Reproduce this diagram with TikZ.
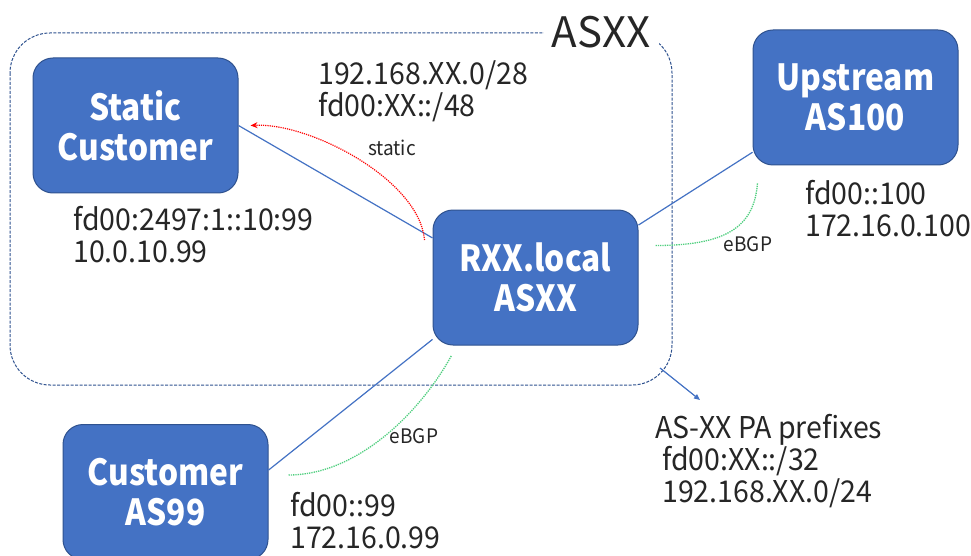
\documentclass[tikz,border=0pt]{standalone}
\usepackage{fontspec}
\setmainfont[FakeStretch=0.95]{Noto Sans CJK JP}
\newfontfamily\boxfont[FakeStretch=0.88]{Noto Sans CJK JP}
\newfontfamily\titlefont{Noto Sans CJK JP}
\usetikzlibrary{arrows.meta,calc}
\definecolor{boxblue}{HTML}{4472C4}
\definecolor{boxedge}{HTML}{2F528F}
\definecolor{txt}{HTML}{262626}
\definecolor{bgpgreen}{HTML}{4FCF7E}
\begin{document}
\begin{tikzpicture}[x=1pt,y=-1pt,
  asbox/.style={draw=boxedge, line width=1pt, fill=boxblue, rounded corners=20pt, minimum width=205pt, minimum height=135pt, text=white, font=\boxfont\fontsize{36}{40}\selectfont\bfseries, align=center, inner sep=0pt},
  addr/.style={text=txt, font=\fontsize{30}{32}\selectfont, align=left, inner sep=0pt, anchor=north west},
  small/.style={text=txt, font=\fontsize{20}{22}\selectfont, inner sep=0pt},
  link/.style={draw=boxblue, line width=1.2pt},
  bgp/.style={draw=bgpgreen, line width=1.3pt, densely dotted},
]
\useasboundingbox (0,0) rectangle (971,556);
\fill[white] (0,0) rectangle (971,556);
\draw[boxedge, line width=1pt, dash pattern=on 3pt off 1.5pt, rounded corners=40pt] (10,33) rectangle (672,385);
\node[fill=white, inner sep=0pt, minimum width=115pt, minimum height=36pt, text=txt, font=\titlefont\fontsize{42}{42}\selectfont] (asxx) at (601,32) {ASXX};

\node[asbox] (sc) at (135.5,125.5) {Static\\Customer};
\node[asbox] (up) at (855.5,97.5) {Upstream\\AS100};
\node[asbox] (rxx) at (535.5,277.5) {RXX.local\\ASXX};
\node[asbox] (c99) at (165.5,492) {Customer\\AS99};

\draw[link] (sc.east) -- (rxx.159);
\draw[link] (rxx.27) -- (up.208);
\draw[link] (rxx.211) -- (c99.12);

\coordinate (rs) at ([xshift=-8pt]rxx.160);
\coordinate (re) at ([xshift=12pt]sc.east);
\draw[red, densely dotted, line width=1.2pt, -{Stealth[length=7pt,width=6pt]}] (rs) .. controls ($(rs)+(-5,-60)$) and ($(re)+(60,-3)$) .. (re);

\coordinate (g1a) at ([shift={(17,-32)}]rxx.east);
\coordinate (g1b) at ([shift={(5,17)}]up.south west);
\draw[bgp] (g1a) .. controls ($(g1a)+(70,0)$) and ($(g1b)+(-3,45)$) .. (g1b);

\coordinate (g2a) at ([shift={(20,-17)}]c99.east);
\coordinate (g2b) at ([shift={(19,10)}]rxx.south west);
\draw[bgp] (g2a) .. controls ($(g2a)+(70,0)$) and ($(g2b)+(-30,55)$) .. (g2b);

\coordinate (dc) at (660,368);
\coordinate (pe) at (700,400);
\draw[link, -{Triangle[length=6pt,width=5pt]}] (dc) -- (pe);

\node[small] (lst) at (392,148) {static};
\node[small] (lb1) at (748,244) {eBGP};
\node[small] (lb2) at (414,436) {eBGP};

\node[addr] (pfx) at (318,60) {192.168.XX.0/28\\fd00:XX::/48};
\node[addr] (scaddr) at (73,206) {fd00:2497:1::10:99\\10.0.10.99};
\node[addr] (upaddr) at (805,180) {fd00::100\\172.16.0.100};
\node[addr] (caddr) at (290,492) {fd00::99\\172.16.0.99};
\node[addr] (pa) at (655,414) {AS-XX PA prefixes\\\hspace*{7pt}fd00:XX::/32\\\hspace*{7pt}192.168.XX.0/24};
\end{tikzpicture}
\end{document}
